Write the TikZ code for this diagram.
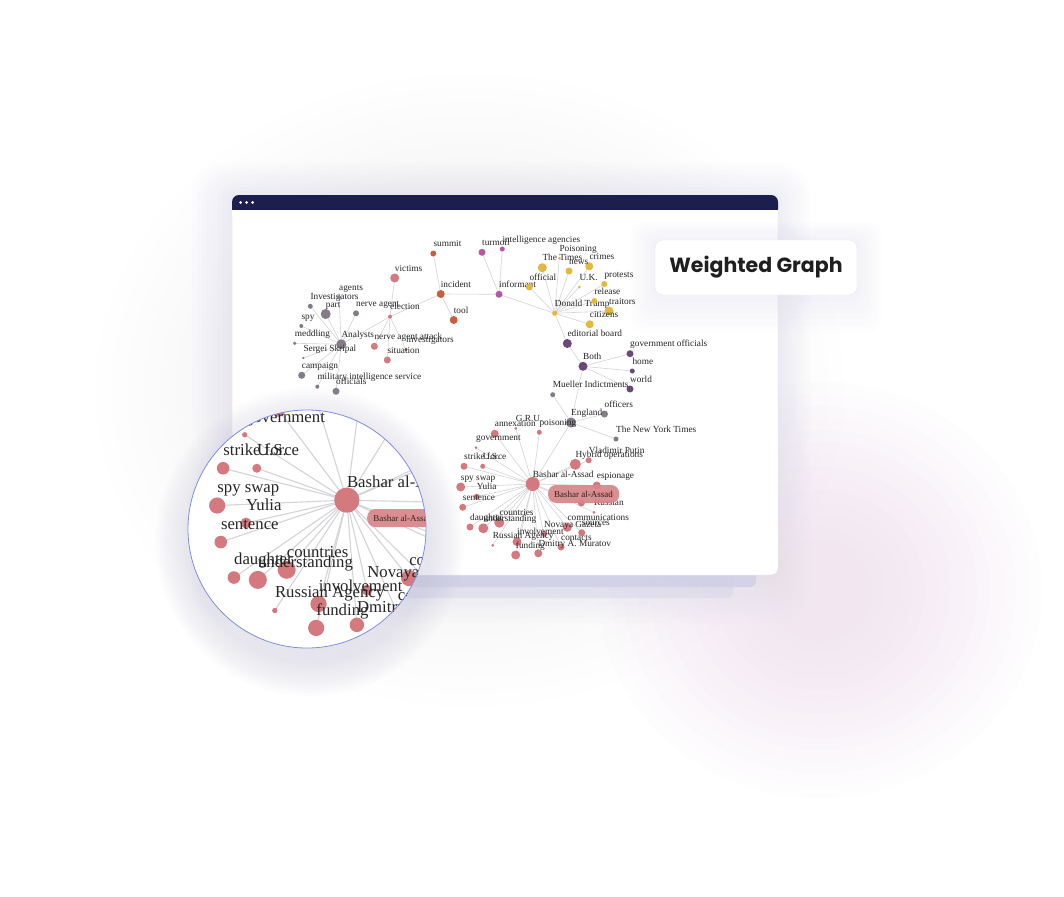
\documentclass[tikz,border=0pt]{standalone}
\usepackage{fontspec}
\setmainfont{Liberation Serif}
\newfontfamily\cardfont{Poppins}
\usetikzlibrary{positioning}

\definecolor{cNavy}{HTML}{1C1F4E}
\definecolor{cEdge}{HTML}{D4D4D8}
\definecolor{cGray}{HTML}{857B88}
\definecolor{cPink}{HTML}{D47A7E}
\definecolor{cRed}{HTML}{B0443E}
\definecolor{cOrange}{HTML}{C8603F}
\definecolor{cMag}{HTML}{B956A6}
\definecolor{cYel}{HTML}{E2B93F}
\definecolor{cPur}{HTML}{6A4878}
\definecolor{cGlow}{HTML}{D6D0F0}
\definecolor{cRose}{HTML}{F2C2D8}
\definecolor{cShade}{HTML}{C4C0E6}
\definecolor{cPanel}{HTML}{CDCEE6}
\definecolor{cRing}{HTML}{7F8EE0}
\definecolor{cCard}{HTML}{E6E6EE}

% graph data: name/x/y/radius/colour/label
\def\nodelist{ana/341.3/344.3/5/cGray/Analysts, inv/310.3/306.3/2.5/cGray/Investigators,
  prt/325.7/314/5/cGray/part, agt/339/297.3/2/cGray/agents, nag/356/313.3/3/cGray/nerve agent,
  spy/301.3/326/2/cGray/spy, med/294.7/343.3/1.8/cGray/meddling, ser/303.3/358/1.2/cGray/Sergei Skripal,
  cmp/301.7/375.3/3.5/cGray/campaign, mil/317.3/386.7/2/cGray/military intelligence service,
  ofc/336/391.3/3.5/cGray/officials, ele/390/316.7/2/cPink/election, vic/394.7/278/4.5/cPink/victims,
  naa/374.3/346.3/3.5/cPink/nerve agent attack, ivg/406/349.7/1.5/cRed/investigators,
  sit/387.3/360/3.5/cPink/situation, inc/440.7/294/4/cOrange/incident, sum/433.3/253.5/3/cOrange/summit,
  tol/453.7/320/4/cOrange/tool, ifm/499/294.3/3.5/cMag/informant, tur/482/252.3/3.5/cMag/turmoil,
  ina/502.3/249/2.5/cMag/intelligence agencies, dtr/554.7/313.3/2.5/cYel/Donald Trump,
  tms/542.3/267.7/4.5/cYel/The Times, poi/559.3/258.3/1.5/cYel/Poisoning, cri/589.3/266.3/4/cYel/crimes,
  nws/569/271/3.5/cYel/news, ofl/529.3/287/3.5/cYel/official, uk/579.3/287/1.5/cYel/U.K.,
  pro/604.3/284/3/cYel/protests, rel/594.3/301/3/cYel/release, tra/609/311/4.5/cYel/traitors,
  cit/589.7/324.3/4/cYel/citizens, edb/567.3/343.5/4.5/cPur/editorial board, bth/583/366.3/4.5/cPur/Both,
  gof/630/353.7/3.5/cPur/government officials, hom/632.3/371/2.5/cPur/home, wld/630/389/3.5/cPur/world,
  mue/552.7/394.7/2.5/cGray/Mueller Indictments, ofr/604.5/414/3.5/cGray/officers,
  eng/571/422.5/5/cGray/England, nyt/616/439/2.5/cGray/The New York Times,
  psn/539.3/432.3/2.5/cPink/poisoning, gru/515.7/428.3/1.5/cPink/G.R.U., anx/494.7/433.7/4/cPink/annexation,
  gvt/476/447.7/1.5/cPink/government, stf/464/466.3/3.5/cPink/strike force, us/482.7/466.3/2.5/cPink/U.S.,
  vpu/588.7/460.3/3/cPink/Vladimir Putin, hyb/575.3/464.3/5.5/cPink/Hybrid operations,
  esp/596.7/485.5/4/cPink/espionage, spw/460.7/487/4.5/cPink/spy swap, yul/476.7/496.7/3/cPink/Yulia,
  sen/462.7/507.3/3.5/cPink/sentence, acc/581.3/503/3.5/cPink/accounts, rus/594/512.3/1.5/cPink/Russian,
  cou/499.3/522.7/5/cPink/countries, dau/470/527/3.5/cPink/daughter, und/483.3/528.3/5/cPink/understanding,
  com/567.3/527.3/4.5/cPink/communications, src/581.7/532.7/3.5/cPink/sources,
  nov/544/534/3/cPink/Novaya Gazeta, ivm/517/541.7/4.5/cPink/involvement,
  rag/492.7/545.3/1.5/cPink/Russian Agency, con/561/547/3.5/cPink/contacts,
  dmi/538.3/553.3/4/cPink/Dmitry A. Muratov, fun/515.7/555/4.5/cPink/funding,
  bas/532.7/484/7/cPink/Bashar al-Assad}

\def\edgelist{ana/inv, ana/prt, ana/agt, ana/nag, ana/spy, ana/med, ana/ser, ana/cmp, ana/mil, ana/ofc,
  ana/ele, ele/vic, ele/inc, ele/naa, ele/ivg, ele/sit, inc/sum, inc/tol, inc/ifm, ifm/tur, ifm/ina,
  ifm/dtr, dtr/tms, dtr/poi, dtr/cri, dtr/nws, dtr/ofl, dtr/uk, dtr/pro, dtr/rel, dtr/tra, dtr/cit,
  dtr/edb, edb/bth, bth/gof, bth/hom, bth/wld, bth/eng, eng/mue, eng/ofr, eng/nyt, eng/bas,
  bas/psn, bas/gru, bas/anx, bas/gvt, bas/stf, bas/us, bas/vpu, bas/hyb, bas/esp, bas/spw, bas/yul,
  bas/sen, bas/acc, bas/rus, bas/cou, bas/dau, bas/und, bas/com, bas/src, bas/nov, bas/ivm, bas/rag,
  bas/con, bas/dmi, bas/fun}

\newcommand\graphbody{%
  \foreach \n/\x/\y/\r/\c/\t in \nodelist {\coordinate (\n) at (\x,\y);}
  \foreach \a/\b in \edgelist {\draw[link] (\a) -- (\b);}
  \foreach \n/\x/\y/\r/\c/\t in \nodelist {
    \fill[\c] (\n) circle[radius=\r];
    \node[lbl] (t-\n) at (\x,\y-7) {\t};
  }
}

\begin{document}
\begin{tikzpicture}[x=1pt, y=-1pt,
  lbl/.style={font=\fontsize{9.3}{10}\selectfont, inner sep=0pt, anchor=base west, text=black!85},
  link/.style={draw=cEdge, line width=0.6pt},
  pill/.style={fill=cPink!92!white, fill opacity=0.92, text opacity=1, rounded corners=8pt,
    minimum width=71pt, minimum height=18pt, inner sep=1pt, text=black!75!cPink,
    font=\fontsize{9}{10}\selectfont},
  card/.style={draw=cCard, fill=white, rounded corners=8pt, minimum width=202pt, minimum height=55pt,
    font=\cardfont\bfseries\fontsize{20.5}{24}\selectfont, text=black!88}
]
\useasboundingbox (0,0) rectangle (1064,896);
\fill[white] (0,0) rectangle (1064,896);

% soft glows
\foreach \i in {1,...,14}
  \fill[cRose, opacity=0.022] (820,590) ellipse [x radius={40+\i*13}, y radius={40+\i*12}];
\foreach \i in {1,...,14}
  \fill[cGlow, opacity=0.02] (470,390) ellipse [x radius={150+\i*16}, y radius={120+\i*14}];

% window shadow and back panels
\foreach \i in {1,...,8}
  \fill[cShade, opacity=0.025, rounded corners={8pt+\i*3pt}] (232-\i*5,195-\i*4) rectangle (778+\i*4,575+\i*6);
\fill[cPanel, opacity=0.35, rounded corners=6pt] (276,560) rectangle (733,598);
\fill[cPanel, opacity=0.75, rounded corners=6pt] (255,560) rectangle (756,587);

% window
\fill[white, rounded corners=7pt] (232,195) rectangle (778,575);
\draw[cCard, line width=0.5pt, rounded corners=7pt] (232,195) rectangle (778,575);
\fill[cNavy, rounded corners=7pt] (232,195) rectangle (778,216);
\fill[white] (232,209.5) rectangle (778,217);
\foreach \dx in {0,6,12}
  \fill[white] (240.7+\dx,202.5) circle[radius=1.5];

% graph
\graphbody
\node[pill] (tip) at (583.6,494) {Bashar al-Assad};

% label card
\foreach \i in {1,...,6}
  \fill[cShade, opacity=0.025, rounded corners=10pt] (655-\i*4,240-\i*3) rectangle (857+\i*4,295+\i*6);
\node[card] (card) at (756,267.5) {Weighted Graph};

% magnifier
\coordinate (mag) at (307,529);
\foreach \i in {1,...,10}
  \fill[cShade!80!gray, opacity=0.03] (310,542) circle[radius={119+\i*3.5}];
\fill[white] (mag) circle[radius=119];
\begin{scope}
  \clip (mag) circle[radius=119];
  \begin{scope}[shift={(-612.2,-371.2)}, scale=1.8, transform shape, link/.append style={line width=1.1pt}]
    \graphbody
  \end{scope}
  \node[pill, anchor=west] (tip-m) at (367,518) {Bashar al-Assad};
\end{scope}
\draw[cRing, line width=0.8pt] (mag) circle[radius=119];
\end{tikzpicture}
\end{document}
